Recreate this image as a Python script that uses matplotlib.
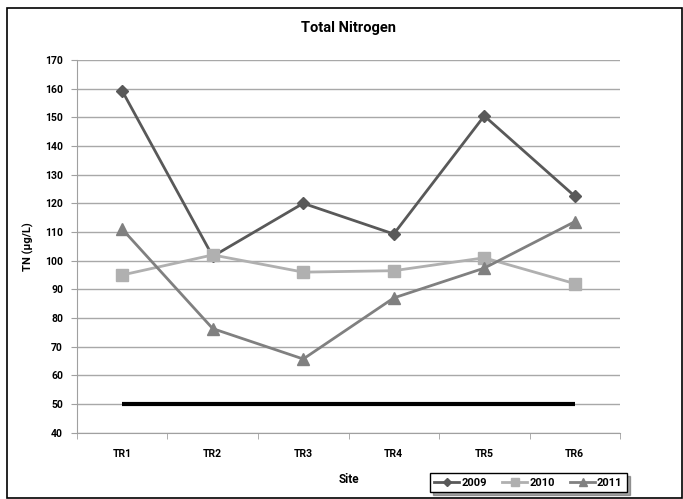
import numpy as np
import matplotlib.pyplot as plt
from matplotlib.patches import Rectangle

plt.rcParams['font.family'] = ['Roboto', 'DejaVu Sans']
plt.rcParams['font.weight'] = 'bold'

sites = ['TR1', 'TR2', 'TR3', 'TR4', 'TR5', 'TR6']
tn_2009 = [159.2, 101.5, 120.0, 109.3, 150.5, 122.5]
tn_2010 = [95.0, 102.0, 96.0, 96.5, 101.0, 92.0]
tn_2011 = [111.0, 76.3, 65.7, 87.0, 97.4, 113.6]
guideline = [50, 50, 50, 50, 50, 50]

fig = plt.figure(figsize=(6.83, 4.99), dpi=100)
ax = fig.add_axes([0.1127, 0.1329, 0.7951, 0.7469])

x = np.arange(len(sites)) + 0.5

ax.plot(x, guideline, color='black', lw=3, solid_capstyle='butt', zorder=3)
ax.plot(x, tn_2009, color='#595959', lw=2, marker='D', ms=6, label='2009', zorder=4)
ax.plot(x, tn_2010, color='#b0b0b0', lw=2, marker='s', ms=8, label='2010', zorder=4)
ax.plot(x, tn_2011, color='#808080', lw=2, marker='^', ms=8, label='2011', zorder=4)

ax.set_xlim(0, 6)
ax.set_ylim(40, 170)
ax.set_yticks(np.arange(40, 171, 10))
ax.set_xticks(x)
ax.set_xticklabels(sites)
ax.set_xticks(np.arange(0, 7), minor=True)
ax.tick_params(axis='x', which='major', length=0, pad=12, labelsize=7.5)
ax.tick_params(axis='x', which='minor', length=4, color='#a0a0a0', direction='out')
ax.tick_params(axis='y', length=4, color='#a0a0a0', labelsize=7.5, pad=6)
ax.grid(axis='y', color='#a8a8a8', lw=1)
ax.set_axisbelow(True)
for s in ['top', 'right']:
    ax.spines[s].set_visible(False)
for s in ['left', 'bottom']:
    ax.spines[s].set_color('#a0a0a0')

ax.set_xlabel('Site', fontsize=8.5, fontweight='bold', labelpad=10)
ax.set_ylabel('TN (µg/L)', fontsize=8, fontweight='bold', labelpad=8)
ax.set_title('Total Nitrogen', fontsize=10.5, fontweight='bold', pad=20)

leg = fig.legend(loc='lower left', bbox_to_anchor=(430 / 683, 1 - 492 / 499, 197 / 683, 26 / 499),
                 ncol=3, mode='expand', fontsize=8, frameon=True, fancybox=False,
                 shadow=True, edgecolor='black', handlelength=2.2, handletextpad=0.2,
                 columnspacing=1.0, borderaxespad=0, markerscale=0.7)
leg.get_frame().set_linewidth(1)

fig.patches.append(Rectangle((7 / 683, 1 / 499), 675 / 683, 490 / 499, transform=fig.transFigure,
                             fill=False, edgecolor='black', lw=1.2))

fig.savefig('out.png', dpi=100)
